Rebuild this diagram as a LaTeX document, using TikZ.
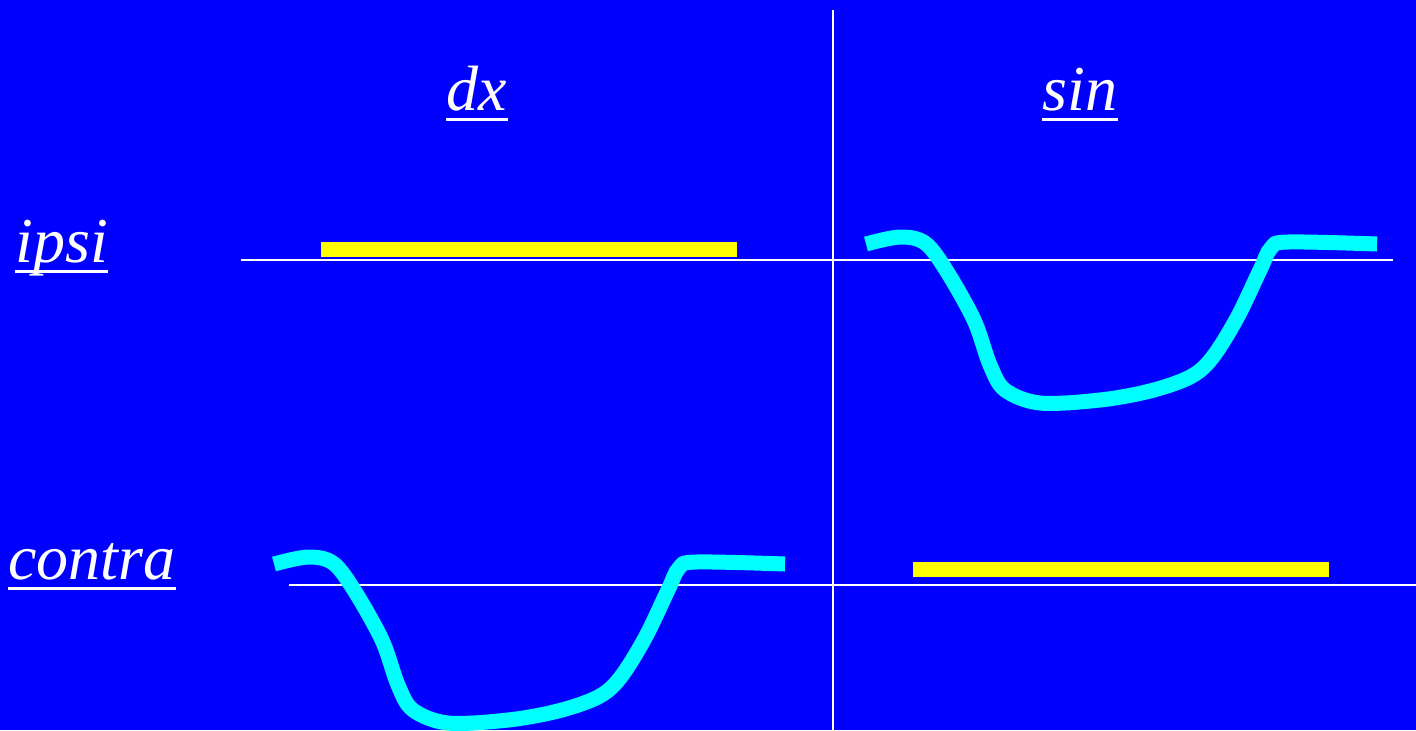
\documentclass[tikz,border=0pt]{standalone}
\usepackage{fontspec}
\setmainfont{Liberation Serif}
\definecolor{fond}{RGB}{0,0,255}
\definecolor{jaune}{RGB}{255,255,0}
\definecolor{cyanvif}{RGB}{0,255,255}
\tikzset{
  titre/.style={text=white, inner sep=0pt, anchor=base, font=\fontsize{32}{38}\selectfont\itshape},
  souligne/.style={draw=white, line width=1.5pt},
  axe/.style={draw=white, line width=1pt},
  barre/.style={fill=jaune, draw=none},
  reponse/.style={draw=cyanvif, line width=7.5pt, smooth, tension=0.55}
}
\begin{document}
\begin{tikzpicture}[x=0.5pt, y=-0.5pt]
  % Fond
  \fill[fond] (0,0) rectangle (1416,730);
  \useasboundingbox (0,0) rectangle (1416,730);

  % Titres
  \node[titre] (dx) at (477,110) {dx};
  \node[titre] (sin) at (1080,110) {sin};
  \node[titre, anchor=base west] (ipsi) at (15,262) {ipsi};
  \node[titre, anchor=base west] (contra) at (8,579) {contra};
  \foreach \t in {dx,sin,ipsi,contra}
    \draw[souligne] ([yshift=-4.5pt]\t.base west) -- ([yshift=-4.5pt]\t.base east);

  % Axes
  \draw[axe] (833,10) -- (833,730);
  \draw[axe] (241,260) -- (1393,260);
  \draw[axe] (289,585) -- (1416,585);

  % Barres jaunes
  \fill[barre] (321,242) rectangle (737,257);
  \fill[barre] (913,562) rectangle (1329,577);

  % Courbes cyan
  \foreach \dx/\dy in {0/0,-592/320}
    \draw[reponse, shift={(\dx,\dy)}] plot coordinates {
      (866,244) (900,237) (925,243) (946,270) (974,320) (990,365)
      (1005,390) (1040,403) (1100,400) (1150,391) (1190,377) (1212,358)
      (1237,318) (1260,270) (1271,248) (1288,242) (1377,244)};
\end{tikzpicture}
\end{document}
